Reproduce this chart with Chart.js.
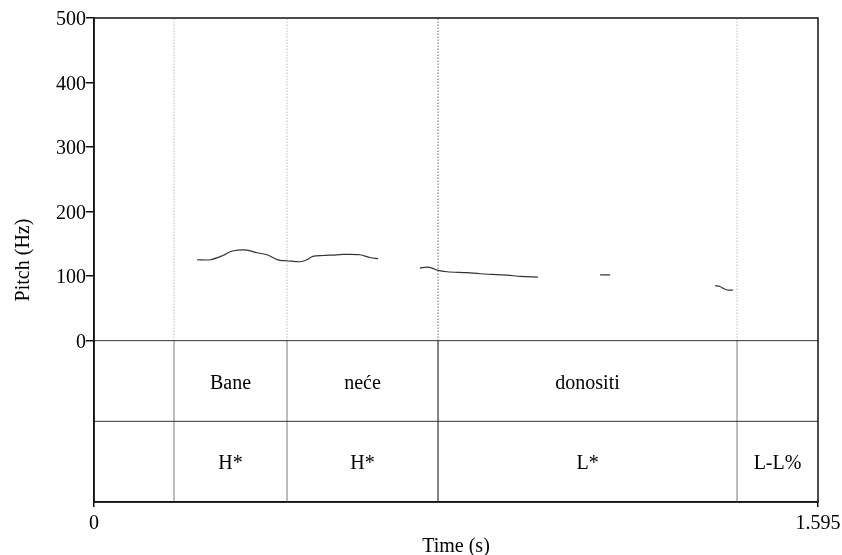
<!DOCTYPE html>
<html>
<head>
<meta charset="utf-8">
<script src="https://cdn.jsdelivr.net/npm/chart.js@4"></script>
<style>
html,body{margin:0;padding:0;background:#fff;}
#wrap{width:842px;height:555px;position:relative;}
</style>
</head>
<body>
<div id="wrap"><canvas id="c" width="842" height="555"></canvas></div>
<script>
// ---- data ----
const timeMax = 1.595;
const pitchTimes = [0.227,0.256,0.284,0.300,0.317,0.337,0.359,0.381,0.399,0.410,0.425,0.454,0.469,0.482,0.505,0.527,0.549,0.586,0.608,0.626,
  0.670,
  0.718,0.734,0.745,0.758,0.778,0.822,0.850,0.910,0.939,0.978,
  1.050,
  1.115,1.137,
  1.250,
  1.368,1.379,1.386,1.395,1.408];
const pitchHz = [125.4,125.4,132,137.8,140.4,140.4,136.2,133.1,126.9,124.3,123.8,122.3,125.4,130.5,132,132.7,133.6,133.1,128.9,126.9,
  null,
  112.5,114,112.5,108.8,106.8,105.3,103.7,101.7,99.5,98.6,
  null,
  102,102,
  null,
  85.1,84,81,78.5,78.5];
const pitchTicks = [0,100,200,300,400,500];
const timeTicks = [0,1.595];
const boundaries = [0.1762,0.4252,0.7579,1.4166];
const wordTier = ['', 'Bane', 'neće', 'donositi', ''];
const toneTier = ['', 'H*', 'H*', 'L*', 'L-L%'];
const tierBottom = -250, tierMid = -125;

// ---- build datasets ----
const FONT = 'Liberation Serif';
const datasets = [];
// pitch contour
datasets.push({
  data: pitchTimes.map((t,i)=>({x:t,y:pitchHz[i]})),
  borderColor:'#333', borderWidth:1.2, pointRadius:0, tension:0.3, spanGaps:false, order:0
});
// horizontal tier lines
[0, tierMid].forEach(v=>{
  datasets.push({data:[{x:0,y:v},{x:timeMax,y:v}], borderColor:'#333', borderWidth:1, pointRadius:0, order:2});
});
// boundaries
boundaries.forEach((b,i)=>{
  const dark = (i===2);
  datasets.push({data:[{x:b,y:0},{x:b,y:500}], borderColor: dark?'#222':'#999', borderWidth:1, borderDash:[1,2], pointRadius:0, order:3});
  datasets.push({data:[{x:b,y:0},{x:b,y:tierBottom}], borderColor: dark?'#444':'#999', borderWidth:1.3, pointRadius:0, order:3});
});

const tierText = {
  id:'tierText',
  afterDatasetsDraw(chart){
    const {ctx, scales:{x,y}, chartArea:a} = chart;
    ctx.save();
    ctx.fillStyle='#000';
    ctx.font = '20px "'+FONT+'"';
    ctx.textAlign='center'; ctx.textBaseline='middle';
    const edges = [0, ...boundaries, timeMax];
    const dy = 2.5;
    for(let i=0;i<edges.length-1;i++){
      const cx = x.getPixelForValue((edges[i]+edges[i+1])/2);
      if(wordTier[i]) ctx.fillText(wordTier[i], cx, y.getPixelForValue(tierMid/2)+dy);
      if(toneTier[i]) ctx.fillText(toneTier[i], cx, y.getPixelForValue((tierMid+tierBottom)/2)+dy);
    }
    // frame
    ctx.strokeStyle='#111'; ctx.lineWidth=1.5;
    ctx.strokeRect(a.left, a.top, a.right-a.left, a.bottom-a.top);
    ctx.restore();
  }
};

new Chart(document.getElementById('c'), {
  type:'line',
  data:{datasets},
  options:{
    responsive:false, animation:false,
    layout:{padding:{top:18,right:24,bottom:0,left:0}},
    plugins:{legend:{display:false}, tooltip:{enabled:false}},
    scales:{
      x:{
        type:'linear', min:0, max:timeMax,
        afterBuildTicks:s=>{s.ticks=timeTicks.map(v=>({value:v}));},
        afterFit:s=>{s.height=53; s.paddingLeft=0; s.paddingRight=0;},
        ticks:{color:'#000', font:{family:FONT,size:20}, padding:5, maxRotation:0, autoSkip:false,
          callback:v=> v===0?'0':String(v)},
        grid:{drawOnChartArea:false, color:'#111', tickLength:5, lineWidth:1.5},
        border:{display:true, color:'#111', width:1.5},
        title:{display:true, text:'Time (s)', color:'#000', font:{family:FONT,size:20,lineHeight:0.8}, padding:{top:0,bottom:0}}
      },
      y:{
        type:'linear', min:tierBottom, max:500,
        afterBuildTicks:s=>{s.ticks=pitchTicks.map(v=>({value:v}));},
        afterFit:s=>{s.width=94; s.paddingTop=0; s.paddingBottom=0;},
        ticks:{color:'#000', font:{family:FONT,size:20}, padding:0, autoSkip:false, labelOffset:2},
        grid:{drawOnChartArea:false, color:'#111', tickLength:8, lineWidth:1.5},
        border:{display:true, color:'#111', width:1.5},
        title:{display:true, text:'Pitch (Hz)', color:'#000', font:{family:FONT,size:20,lineHeight:1}, padding:{top:14,bottom:0}}
      }
    }
  },
  plugins:[tierText]
});
</script>
</body>
</html>
